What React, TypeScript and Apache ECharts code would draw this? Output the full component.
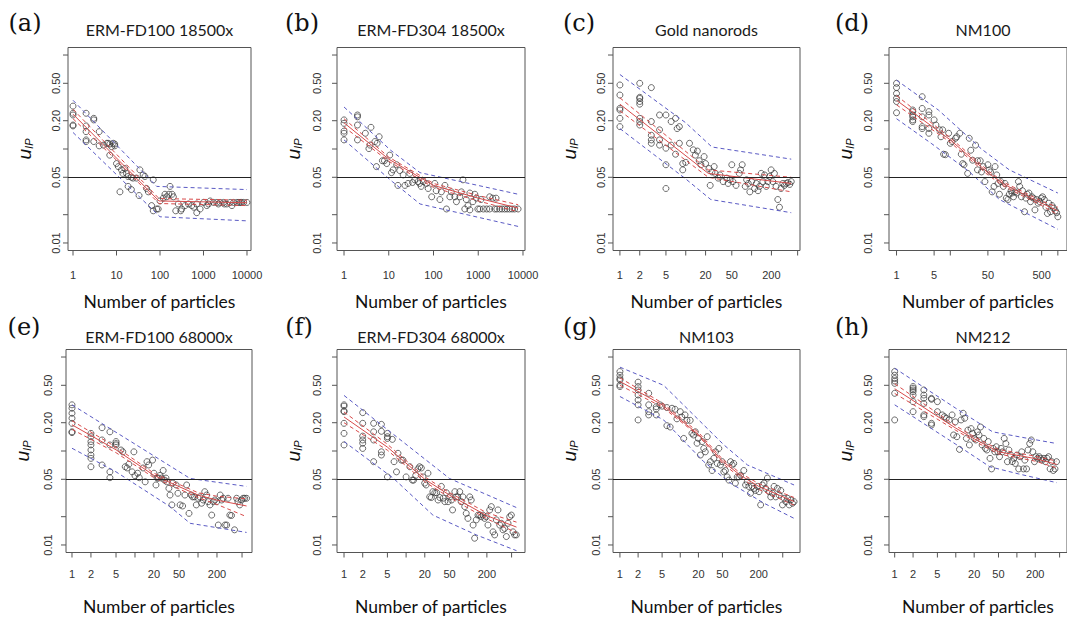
import { useEffect, useRef } from "react";
import * as echarts from "echarts";

// ---------------- data (x = number of particles, y = u_IP) ----------------
const titles = ["ERM-FD100 18500x", "ERM-FD304 18500x", "Gold nanorods", "NM100", "ERM-FD100 68000x", "ERM-FD304 68000x", "NM103", "NM212"];
const tags = ["(a)", "(b)", "(c)", "(d)", "(e)", "(f)", "(g)", "(h)"];

const X_TICKS_DEC = [1, 10, 100, 1000, 10000];
const X_TICKS_125 = [1, 2, 5, 10, 20, 50, 100, 200, 500];
const X_LABELS_125 = [1, 2, 5, 20, 50, 200];
const X_TICKS_D = [1, 5, 10, 50, 100, 500, 1000];
const X_LABELS_D = [1, 5, 50, 500];
const Y_TICKS = [0.01, 0.02, 0.05, 0.1, 0.2, 0.5, 1];
const Y_LABELS = [0.01, 0.05, 0.2, 0.5];
const REF_LEVEL = 0.05;

const ptsA = [[1,0.286],[1,0.24],[1,0.23],[1,0.18],[1,0.176],[2,0.24],[2,0.176],[2,0.153],[2,0.125],[2,0.12],[3,0.212],[3,0.204],[3,0.12],[4,0.153],[4,0.108],[5,0.11],[6,0.115],[6.4,0.115],[7,0.113],[7.7,0.106],[8.4,0.115],[9.1,0.113],[9.1,0.108],[7,0.086],[10,0.07],[11,0.065],[12,0.035],[13,0.06],[14,0.055],[15.5,0.062],[17,0.055],[18.5,0.051],[18.5,0.04],[22,0.05],[22,0.037],[24,0.049],[29,0.049],[33,0.032],[34.5,0.06],[41,0.053],[45,0.051],[49,0.038],[54,0.035],[64,0.025],[70,0.047],[70,0.022],[84,0.023],[91,0.023],[100,0.028],[119,0.03],[130,0.033],[142,0.031],[160,0.033],[170,0.04],[190,0.033],[203,0.031],[230,0.022],[264,0.026],[300,0.022],[316,0.023],[377,0.025],[450,0.026],[537,0.025],[600,0.024],[700,0.026],[700,0.021],[836,0.023],[998,0.027],[1190,0.025],[1300,0.026],[1420,0.028],[1700,0.027],[2030,0.027],[2200,0.026],[2420,0.027],[2890,0.027],[3000,0.026],[3450,0.026],[4110,0.027],[4500,0.025],[4910,0.027],[5860,0.027],[6500,0.027],[7000,0.027],[7500,0.027],[8360,0.027],[9980,0.027]];
const fitA = [[1,0.235],[95,0.028],[10000,0.0268]];
const ciHiA = [[1,0.265],[10,0.088],[95,0.0297],[10000,0.0285]];
const ciLoA = [[1,0.21],[10,0.076],[95,0.0263],[10000,0.025]];
const piHiA = [[1,0.33],[84,0.04],[10000,0.037]];
const piLoA = [[1,0.15],[100,0.019],[10000,0.0172]];

const ptsB = [[1,0.204],[1,0.1875],[1,0.155],[1,0.147],[1,0.125],[2,0.23],[2,0.22],[2,0.18],[2,0.125],[3,0.147],[3.6,0.101],[3.8,0.11],[4,0.17],[4.9,0.12],[5.5,0.115],[6.1,0.135],[5.3,0.065],[7.2,0.075],[8,0.075],[9,0.07],[10.5,0.086],[11.5,0.056],[12.5,0.06],[15,0.068],[16,0.041],[17.6,0.059],[21,0.053],[23,0.041],[27,0.043],[29.5,0.055],[34,0.044],[38,0.047],[45,0.045],[49,0.043],[53,0.04],[59,0.045],[70,0.043],[76,0.038],[91,0.031],[107,0.043],[115,0.036],[139,0.029],[150,0.035],[180,0.041],[195,0.023],[232,0.031],[250,0.035],[299,0.031],[325,0.0275],[388,0.031],[420,0.035],[455,0.047],[500,0.023],[540,0.029],[590,0.025],[650,0.0225],[650,0.034],[760,0.0275],[840,0.033],[900,0.03],[980,0.023],[1080,0.023],[1150,0.029],[1300,0.023],[1550,0.023],[1800,0.023],[1800,0.031],[2100,0.03],[2330,0.023],[2500,0.03],[2600,0.023],[3000,0.023],[3400,0.023],[3900,0.023],[4400,0.023],[5030,0.023],[5700,0.023],[6500,0.023],[7770,0.023]];
const fitB = [[1,0.19],[10,0.078],[100,0.041],[1000,0.03],[7800,0.0235]];
const ciHiB = [[1,0.21],[10,0.082],[100,0.043],[1000,0.032],[7800,0.0255]];
const ciLoB = [[1,0.172],[10,0.074],[100,0.039],[1000,0.028],[7800,0.0215]];
const piHiB = [[1,0.28],[11,0.097],[50,0.056],[7800,0.033]];
const piLoB = [[1,0.125],[12,0.045],[50,0.026],[7800,0.015]];

const ptsC = [[1,0.48],[1,0.375],[1,0.271],[1,0.26],[1,0.212],[1,0.173],[2,0.5],[2,0.355],[2,0.345],[2,0.32],[2,0.3],[2,0.212],[2,0.196],[2,0.18],[3,0.45],[3,0.196],[3,0.14],[3,0.125],[3,0.115],[4,0.23],[4,0.16],[4,0.125],[4,0.11],[5,0.23],[5,0.102],[5,0.068],[5,0.038],[6,0.196],[6,0.11],[7,0.212],[7,0.088],[7.4,0.165],[8,0.173],[8,0.115],[9,0.07],[9,0.06],[10,0.072],[11.4,0.115],[13,0.098],[14,0.086],[15,0.095],[16,0.075],[17,0.068],[19,0.083],[20,0.07],[22.5,0.062],[23.5,0.041],[25,0.057],[27,0.065],[28,0.055],[31,0.049],[33,0.053],[37,0.045],[42,0.049],[44,0.043],[47,0.047],[50,0.068],[52,0.045],[58,0.041],[65,0.055],[68,0.06],[72,0.068],[80,0.04],[84,0.047],[89,0.043],[94,0.035],[100,0.045],[111,0.038],[118,0.043],[125,0.036],[132,0.04],[140,0.055],[148,0.045],[157,0.053],[167,0.04],[176,0.045],[187,0.051],[198,0.06],[210,0.045],[222,0.055],[235,0.04],[250,0.029],[265,0.024],[280,0.038],[298,0.043],[315,0.041],[335,0.043],[355,0.044],[380,0.042],[400,0.045]];
const fitC = [[1,0.3],[22,0.055],[400,0.043]];
const ciHiC = [[1,0.35],[22,0.06],[400,0.05]];
const ciLoC = [[1,0.255],[22,0.05],[400,0.035]];
const piHiC = [[1,0.62],[10,0.19],[25,0.105],[400,0.078]];
const piLoC = [[1,0.165],[10,0.048],[24,0.029],[400,0.021]];

const ptsD = [[1,0.5],[1,0.45],[1,0.39],[1,0.347],[1,0.32],[1,0.243],[2,0.26],[2,0.25],[2,0.23],[2,0.22],[2,0.204],[2,0.196],[3,0.36],[3,0.27],[3,0.22],[3,0.173],[3,0.165],[4,0.25],[4,0.23],[4,0.165],[4,0.147],[5,0.204],[5.4,0.18],[6.3,0.16],[7.2,0.16],[6.7,0.135],[7.5,0.088],[8.1,0.087],[9.3,0.147],[10,0.115],[10.8,0.12],[12.5,0.13],[13.2,0.135],[15,0.147],[16,0.088],[17,0.07],[18,0.068],[21,0.055],[22.5,0.13],[24,0.097],[26,0.076],[29.5,0.11],[32,0.075],[32,0.06],[36,0.075],[38,0.057],[41,0.065],[44,0.045],[50,0.068],[53,0.06],[56,0.057],[60,0.035],[65,0.04],[68,0.065],[73,0.053],[77,0.043],[82,0.033],[87,0.045],[97,0.04],[104,0.043],[110,0.03],[118,0.029],[125,0.033],[135,0.036],[140,0.034],[150,0.031],[160,0.035],[170,0.034],[185,0.045],[195,0.04],[210,0.031],[220,0.036],[240,0.0215],[255,0.03],[270,0.033],[290,0.034],[310,0.0275],[330,0.031],[350,0.03],[375,0.0225],[400,0.029],[430,0.0265],[460,0.0275],[490,0.03],[520,0.031],[560,0.029],[600,0.024],[640,0.0206],[680,0.0265],[730,0.0215],[780,0.025],[830,0.0235],[900,0.022],[950,0.021],[1000,0.019]];
const fitD = [[1,0.33],[10,0.125],[50,0.056],[100,0.042],[500,0.0265],[1000,0.022]];
const ciHiD = [[1,0.37],[10,0.132],[50,0.059],[100,0.044],[500,0.028],[1000,0.024]];
const ciLoD = [[1,0.295],[10,0.118],[50,0.053],[100,0.04],[500,0.025],[1000,0.02]];
const piHiD = [[1,0.54],[6,0.26],[38,0.1],[125,0.06],[1000,0.034]];
const piLoD = [[1,0.21],[4.4,0.115],[22,0.058],[82,0.029],[1000,0.014]];

const ptsE = [[1,0.31],[1,0.285],[1,0.252],[1,0.223],[1,0.197],[1,0.16],[1,0.157],[2,0.154],[2,0.142],[2,0.126],[2,0.116],[2,0.1025],[2,0.0906],[2,0.0835],[2,0.068],[3,0.177],[3,0.131],[3,0.071],[4,0.16],[4,0.116],[4,0.06],[4,0.052],[5,0.126],[5,0.12],[5,0.116],[6,0.1025],[6.4,0.098],[7,0.068],[7.5,0.066],[8,0.0723],[9,0.06],[9.6,0.098],[10,0.0546],[11,0.058],[11.7,0.052],[13.4,0.066],[14.5,0.047],[15.5,0.077],[16.5,0.071],[19,0.08],[20,0.058],[21.5,0.0435],[22.5,0.0515],[23.5,0.0515],[25,0.055],[26.5,0.0515],[28,0.062],[29.5,0.049],[31,0.0515],[32,0.047],[34.5,0.04],[36,0.034],[38.5,0.0267],[40,0.0455],[45,0.0435],[48,0.0355],[52,0.0267],[57,0.026],[62,0.034],[66,0.0435],[72,0.0217],[78,0.034],[82,0.0325],[88,0.0325],[94,0.0267],[100,0.0314],[107,0.0325],[114,0.0278],[121,0.0301],[128,0.0369],[137,0.034],[145,0.0289],[155,0.0267],[165,0.0208],[175,0.0289],[185,0.0301],[198,0.0289],[210,0.0163],[225,0.034],[238,0.0301],[252,0.0314],[268,0.0163],[285,0.0163],[300,0.0314],[320,0.0208],[340,0.0206],[380,0.0145],[410,0.0314],[430,0.0289],[460,0.0267],[490,0.0301],[520,0.0314],[550,0.0314],[590,0.0314]];
const fitE = [[1,0.19],[5,0.103],[20,0.055],[100,0.034],[200,0.03],[590,0.026]];
const ciHiE = [[1,0.21],[5,0.11],[20,0.058],[100,0.036],[200,0.033],[590,0.031]];
const ciLoE = [[1,0.17],[5,0.096],[20,0.052],[100,0.032],[200,0.027],[590,0.02]];
const piHiE = [[1,0.31],[75,0.051],[590,0.042]];
const piLoE = [[1,0.107],[5,0.06],[36,0.0256],[75,0.017],[590,0.0136]];

const ptsF = [[1,0.31],[1,0.3],[1,0.267],[1,0.262],[1,0.197],[1,0.154],[1,0.116],[2,0.256],[2,0.197],[2,0.144],[2,0.131],[2,0.121],[2,0.1065],[3,0.197],[3,0.16],[3,0.131],[3,0.077],[4,0.192],[4,0.162],[4,0.098],[4,0.0906],[5,0.154],[5,0.142],[5,0.136],[5,0.053],[6,0.133],[6.4,0.077],[7,0.06],[7.4,0.0945],[8.4,0.08],[8.9,0.08],[10,0.053],[11.5,0.068],[12.6,0.049],[13.2,0.049],[14.3,0.055],[15.5,0.0645],[16.5,0.068],[17.6,0.066],[18.7,0.053],[19.9,0.0455],[21,0.0435],[22.5,0.058],[24,0.0325],[25.5,0.032],[27,0.0369],[29,0.036],[31,0.036],[32.7,0.0301],[34.8,0.032],[37,0.042],[39.5,0.0315],[42,0.0289],[44.5,0.036],[47.5,0.0289],[50.5,0.0325],[54,0.0301],[56,0.0236],[61,0.0369],[64,0.0325],[68,0.0325],[73,0.0369],[77,0.0289],[82,0.0325],[88,0.0256],[93,0.0217],[99,0.0192],[106,0.0325],[112,0.0301],[120,0.0163],[127,0.0118],[135,0.0185],[144,0.0208],[153,0.0208],[163,0.02],[173,0.0208],[184,0.0192],[196,0.02],[208,0.0163],[222,0.0236],[236,0.0256],[251,0.0138],[267,0.0128],[284,0.0185],[302,0.0236],[322,0.0163],[342,0.017],[364,0.0145],[387,0.015],[412,0.0123],[438,0.017],[466,0.02],[496,0.0208],[527,0.0138],[560,0.0128],[596,0.0128]];
const fitF = [[1,0.23],[5,0.11],[20,0.05],[50,0.034],[200,0.0205],[600,0.0155]];
const ciHiF = [[1,0.26],[5,0.118],[20,0.053],[50,0.036],[200,0.022],[600,0.0175]];
const ciLoF = [[1,0.2],[5,0.102],[20,0.047],[50,0.032],[200,0.019],[600,0.0135]];
const piHiF = [[1,0.39],[50,0.051],[600,0.025]];
const piLoF = [[1,0.126],[6.2,0.0515],[27,0.0208],[135,0.0128],[600,0.0087]];

const ptsG = [[1,0.7],[1,0.64],[1,0.59],[1,0.57],[1,0.503],[1,0.485],[2,0.54],[2,0.485],[2,0.446],[2,0.394],[2,0.349],[2,0.31],[2,0.214],[3,0.411],[3,0.31],[3,0.262],[3,0.242],[4,0.296],[4,0.28],[4,0.242],[4.6,0.31],[5,0.3],[6,0.29],[6,0.186],[6.8,0.18],[7.3,0.285],[8.2,0.278],[8.8,0.22],[10,0.262],[10.6,0.23],[11.4,0.136],[12,0.242],[12.9,0.212],[14.6,0.212],[15.6,0.154],[16.6,0.148],[17.8,0.16],[19,0.121],[20,0.136],[21.6,0.0906],[23,0.126],[24.5,0.1065],[26,0.098],[28,0.142],[29.6,0.071],[31.6,0.077],[33.7,0.062],[36,0.0835],[38.4,0.098],[41,0.0737],[43.6,0.1065],[46.4,0.071],[49.5,0.077],[52.7,0.06],[56,0.062],[60,0.053],[64,0.049],[68,0.077],[72.6,0.071],[77,0.0737],[82,0.0455],[88,0.053],[94,0.053],[100,0.055],[113,0.062],[121,0.0435],[129,0.047],[137,0.042],[146,0.0355],[156,0.042],[167,0.04],[178,0.038],[190,0.042],[202,0.0369],[215,0.0267],[230,0.0435],[245,0.0455],[261,0.04],[278,0.0515],[297,0.0369],[316,0.0325],[337,0.0355],[359,0.042],[383,0.0325],[408,0.04],[435,0.034],[464,0.038],[495,0.0267],[527,0.0314],[562,0.0289],[600,0.0314],[640,0.0267],[680,0.0301],[725,0.0278],[770,0.0289]];
const fitG = [[1,0.55],[5,0.31],[20,0.15],[50,0.078],[100,0.055],[200,0.042],[770,0.029]];
const ciHiG = [[1,0.6],[5,0.325],[20,0.158],[50,0.082],[100,0.058],[200,0.045],[770,0.032]];
const ciLoG = [[1,0.5],[5,0.295],[20,0.146],[50,0.074],[100,0.052],[200,0.039],[770,0.0265]];
const piHiG = [[1,0.78],[5.3,0.5],[53,0.116],[130,0.071],[770,0.0435]];
const piLoG = [[1,0.38],[5.3,0.214],[24.5,0.077],[68,0.0455],[245,0.0278],[770,0.0192]];

const ptsH = [[1,0.7],[1,0.64],[1,0.59],[1,0.556],[1,0.525],[1,0.411],[1,0.214],[2,0.485],[2,0.465],[2,0.446],[2,0.428],[2,0.394],[2,0.335],[2,0.262],[3,0.446],[3,0.394],[3,0.363],[3,0.321],[3,0.242],[3,0.232],[4,0.363],[4,0.355],[4,0.197],[4,0.189],[5,0.335],[5,0.262],[6,0.242],[6.5,0.232],[7,0.223],[7.8,0.214],[8.7,0.242],[9.8,0.204],[9.2,0.148],[10.4,0.142],[11.5,0.104],[12.2,0.214],[13.2,0.252],[14,0.223],[14.9,0.136],[15.8,0.167],[16.7,0.116],[17.8,0.173],[18.9,0.154],[20,0.136],[21.3,0.131],[22.6,0.16],[24,0.148],[25.4,0.18],[27,0.116],[28.7,0.136],[30.5,0.1065],[32.3,0.1025],[34,0.126],[36.3,0.0835],[38.5,0.0645],[41,0.1065],[43.5,0.098],[46,0.111],[49,0.098],[52,0.087],[55,0.1065],[58,0.098],[62,0.136],[66,0.12],[70,0.077],[74,0.1025],[79,0.0906],[84,0.077],[89,0.0835],[94,0.0737],[100,0.0906],[107,0.0645],[113,0.087],[120,0.098],[128,0.0645],[135,0.08],[144,0.0645],[152,0.1025],[162,0.12],[172,0.131],[182,0.098],[194,0.077],[205,0.087],[218,0.0835],[232,0.087],[245,0.0835],[260,0.08],[277,0.0835],[294,0.077],[312,0.0835],[330,0.087],[350,0.0645],[372,0.077],[395,0.062],[420,0.0645],[445,0.077]];
const fitH = [[1,0.46],[10,0.175],[20,0.135],[50,0.098],[200,0.083],[450,0.072]];
const ciHiH = [[1,0.52],[10,0.185],[20,0.142],[50,0.104],[200,0.088],[450,0.078]];
const ciLoH = [[1,0.41],[10,0.166],[20,0.128],[50,0.093],[200,0.078],[450,0.066]];
const piHiH = [[1,0.76],[10,0.285],[40,0.16],[120,0.14],[450,0.12]];
const piLoH = [[1,0.31],[10,0.118],[36,0.068],[107,0.057],[450,0.046]];

// ---------------- layout ----------------
// Both axes are log10 scales; the axis coordinate is log10(value) + shift.
const XS = 1;
const YS = 3;
const ROW_TOP = [47.5, 349.5];
const PLOT_H = 203;
const Y_MIN = -2.08;
const Y_MAX = 0.08;

const panels = [
  { pts: ptsA, fit: fitA, ciHi: ciHiA, ciLo: ciLoA, piHi: piHiA, piLo: piLoA, row: 0, left: 68, width: 183, xMin: -0.115, xMax: 4.092, xt: X_TICKS_DEC, xl: X_TICKS_DEC, yoff: 12.5, tagX: 25 },
  { pts: ptsB, fit: fitB, ciHi: ciHiB, ciLo: ciLoB, piHi: piHiB, piLo: piLoB, row: 0, left: 337, width: 188, xMin: -0.157, xMax: 4.045, xt: X_TICKS_DEC, xl: X_TICKS_DEC, yoff: 20.5, tagX: 302 },
  { pts: ptsC, fit: fitC, ciHi: ciHiC, ciLo: ciLoC, piHi: piHiC, piLo: piLoC, row: 0, left: 613, width: 187, xMin: -0.105, xMax: 2.735, xt: X_TICKS_125, xl: X_LABELS_125, yoff: 12.5, tagX: 579 },
  { pts: ptsD, fit: fitD, ciHi: ciHiD, ciLo: ciLoD, piHi: piHiD, piLo: piLoD, row: 0, left: 889, width: 188, xMin: -0.14, xMax: 3.17, xt: X_TICKS_D, xl: X_LABELS_D, yoff: 21, tagX: 852 },
  { pts: ptsE, fit: fitE, ciHi: ciHiE, ciLo: ciLoE, piHi: piHiE, piLo: piLoE, row: 1, left: 66, width: 186, xMin: -0.095, xMax: 2.857, xt: X_TICKS_125, xl: X_LABELS_125, yoff: 18, tagX: 24 },
  { pts: ptsF, fit: fitF, ciHi: ciHiF, ciLo: ciLoF, piHi: piHiF, piLo: piLoF, row: 1, left: 337, width: 188, xMin: -0.113, xMax: 2.915, xt: X_TICKS_125, xl: X_LABELS_125, yoff: 20.5, tagX: 299 },
  { pts: ptsG, fit: fitG, ciHi: ciHiG, ciLo: ciLoG, piHi: piHiG, piLo: piLoG, row: 1, left: 613, width: 187, xMin: -0.115, xMax: 2.985, xt: X_TICKS_125, xl: X_LABELS_125, yoff: 16.7, tagX: 580 },
  { pts: ptsH, fit: fitH, ciHi: ciHiH, ciLo: ciLoH, piHi: piHiH, piLo: piLoH, row: 1, left: 889, width: 188, xMin: -0.093, xMax: 2.82, xt: X_TICKS_125, xl: X_LABELS_125, yoff: 21, tagX: 852 },
];

const TITLE_Y = [29, 336];
const TAG_Y = [23, 327];
const XLABEL_OFF = [24.5, 21];
const XNAME_GAP = [42, 44.5];

const C_POINT = "#333";
const C_RED = "#d84a4a";
const C_BLUE = "#5a5ac4";
const C_BOX = "#555";
const SANS = "Liberation Sans, Arial, sans-serif";
const HUMAN = "Lato, 'Open Sans', sans-serif";

const fx = (v: number) => Math.log10(v) + XS;
const fy = (v: number) => Math.log10(v) + YS;
const toXY = (arr: number[][]) => arr.map(([x, y]) => [fx(x), fy(y)]);

function buildOption() {
  const grid: any[] = [];
  const xAxis: any[] = [];
  const yAxis: any[] = [];
  const series: any[] = [];
  const graphic: any[] = [];

  panels.forEach((p, i) => {
    const top = ROW_TOP[p.row];
    grid.push({ left: p.left, top, width: p.width, height: PLOT_H, show: true, borderColor: C_BOX, borderWidth: 1, backgroundColor: "transparent" });
    xAxis.push({
      gridIndex: i, type: "value", min: p.xMin + XS, max: p.xMax + XS,
      axisLine: { show: false, onZero: false }, splitLine: { show: false }, axisTick: { show: false }, axisLabel: { show: false },
      name: "Number of particles", nameLocation: "middle", nameGap: XNAME_GAP[p.row],
      nameTextStyle: { fontFamily: HUMAN, fontSize: 17.5, color: "#111" },
    });
    yAxis.push({
      gridIndex: i, type: "value", min: Y_MIN + YS, max: Y_MAX + YS,
      axisLine: { show: false, onZero: false }, splitLine: { show: false }, axisTick: { show: false }, axisLabel: { show: false },
      name: "{u|u}{s|IP}", nameLocation: "middle", nameRotate: 90, nameGap: 34,
      nameTextStyle: {
        rich: {
          u: { fontFamily: SANS, fontStyle: "italic", fontSize: 19, color: "#111" },
          s: { fontFamily: SANS, fontStyle: "italic", fontSize: 11, color: "#111", verticalAlign: "bottom" },
        },
      },
    });
    series.push({
      type: "scatter", xAxisIndex: i, yAxisIndex: i, data: toXY(p.pts), symbol: "circle", symbolSize: 6,
      itemStyle: { color: "rgba(0,0,0,0)", borderColor: C_POINT, borderWidth: 0.9 }, silent: true,
      markLine: { silent: true, symbol: "none", label: { show: false }, lineStyle: { color: "#222", width: 1, type: "solid" }, data: [{ yAxis: fy(REF_LEVEL) }] },
    });
    const line = (d: number[][], color: string, dashed: boolean) => ({
      type: "line", xAxisIndex: i, yAxisIndex: i, data: toXY(d), showSymbol: false, symbol: "none", silent: true,
      lineStyle: { color, width: 1, type: dashed ? [4, 3] : "solid" },
    });
    series.push(line(p.piHi, C_BLUE, true), line(p.piLo, C_BLUE, true), line(p.ciHi, C_RED, true), line(p.ciLo, C_RED, true), line(p.fit, C_RED, false));

    // x-axis ticks and labels (positions from the axis scale)
    const xlOff = XLABEL_OFF[p.row];
    series.push({
      type: "custom", xAxisIndex: i, yAxisIndex: i, silent: true, clip: false, z: 5,
      data: p.xt.map((t) => [fx(t), Y_MIN + YS, p.xl.indexOf(t) >= 0 ? 1 : 0]),
      renderItem: (_params: any, api: any) => {
        const v = api.value(0);
        const pt = api.coord([v, api.value(1)]);
        const children: any[] = [
          { type: "line", shape: { x1: pt[0], y1: pt[1], x2: pt[0], y2: pt[1] + 5 }, style: { stroke: C_BOX, lineWidth: 1 } },
        ];
        if (api.value(2) === 1) {
          children.push({ type: "text", x: pt[0], y: pt[1] + xlOff, style: { text: String(Math.round(Math.pow(10, v - XS))), fontSize: 11, fontFamily: SANS, fill: "#333", align: "center", verticalAlign: "middle" } });
        }
        return { type: "group", children };
      },
    });
    // y-axis ticks and labels
    const yOff = p.yoff;
    series.push({
      type: "custom", xAxisIndex: i, yAxisIndex: i, silent: true, clip: false, z: 5,
      data: Y_TICKS.map((t) => [p.xMin + XS, fy(t), Y_LABELS.indexOf(t) >= 0 ? 1 : 0]),
      renderItem: (_params: any, api: any) => {
        const v = api.value(1);
        const pt = api.coord([api.value(0), v]);
        const children: any[] = [
          { type: "line", shape: { x1: pt[0] - 5, y1: pt[1], x2: pt[0], y2: pt[1] }, style: { stroke: C_BOX, lineWidth: 1 } },
        ];
        if (api.value(2) === 1) {
          children.push({ type: "text", x: pt[0] - yOff, y: pt[1], rotation: Math.PI / 2, style: { text: Math.pow(10, v - YS).toFixed(2), fontSize: 11, fontFamily: SANS, fill: "#333", align: "center", verticalAlign: "middle" } });
        }
        return { type: "group", children };
      },
    });

    graphic.push({ type: "text", x: p.left + p.width / 2, y: TITLE_Y[p.row], style: { text: titles[i], fontFamily: HUMAN, fontSize: 16, fill: "#1a1a1a", align: "center", verticalAlign: "middle" } });
    graphic.push({ type: "text", x: p.tagX, y: TAG_Y[p.row], style: { text: tags[i], fontFamily: "DejaVu Serif, serif", fontSize: 24, fill: "#111", align: "center", verticalAlign: "middle" } });
  });

  return { animation: false, backgroundColor: "#fff", grid, xAxis, yAxis, series, graphic };
}

export default function App() {
  const ref = useRef<HTMLDivElement>(null);
  useEffect(() => {
    if (!ref.current) return;
    const chart = echarts.init(ref.current, undefined, { renderer: "svg" });
    chart.setOption(buildOption() as any);
    return () => chart.dispose();
  }, []);
  return <div ref={ref} style={{ position: "fixed", left: 0, top: 0, width: 1067, height: 617, background: "#fff" }} />;
}
